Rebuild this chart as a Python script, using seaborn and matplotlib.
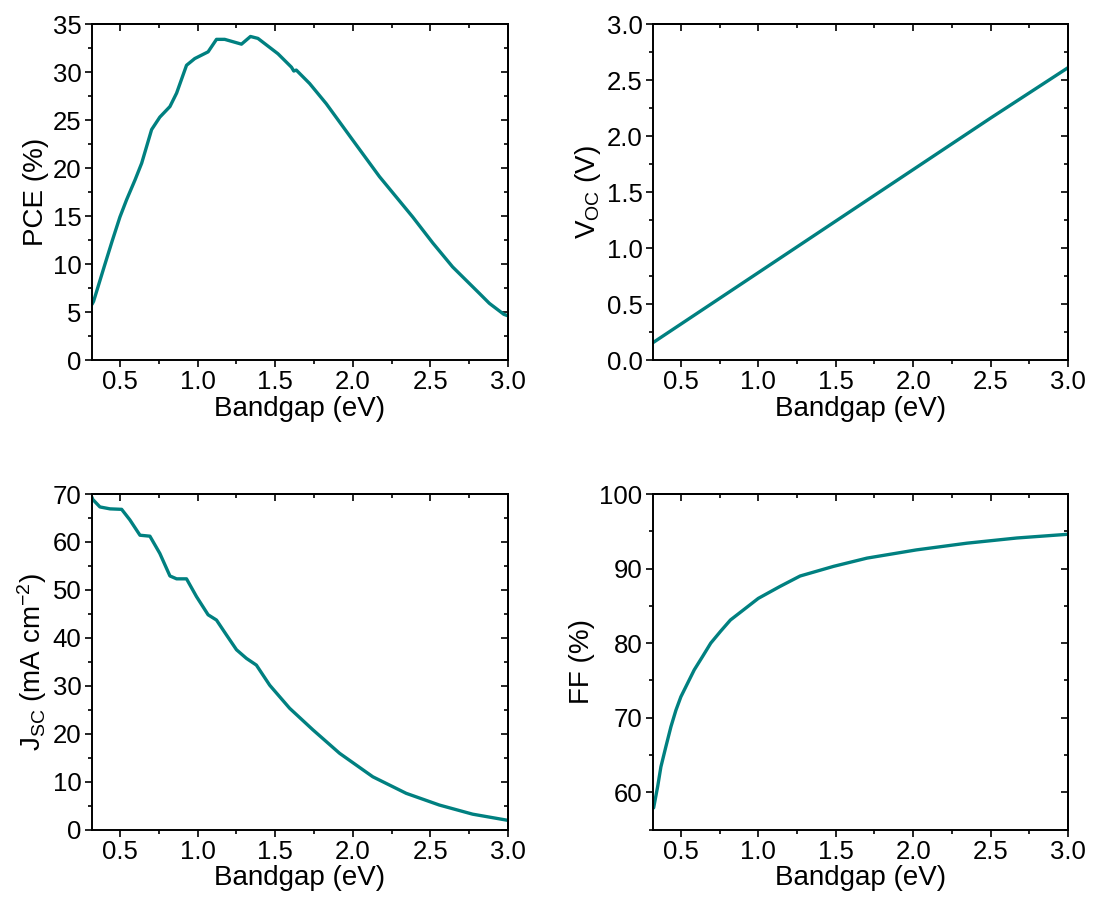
import numpy as np
import pandas as pd
import matplotlib
matplotlib.use("Agg")
import matplotlib.pyplot as plt
import seaborn as sns
from matplotlib.ticker import MultipleLocator

# ---- data ----
pce_eg = [0.32, 0.33, 0.40, 0.45, 0.50, 0.543, 0.597, 0.640, 0.704, 0.757, 0.822, 0.865,
          0.929, 0.982, 1.068, 1.122, 1.175, 1.283, 1.341, 1.389, 1.518, 1.605, 1.62,
          1.636, 1.722, 1.829, 2.0, 2.172, 2.386, 2.515, 2.643, 2.815, 2.88, 2.973, 3.0]
pce = [5.8, 6.1, 9.8, 12.4, 14.9, 16.7, 18.75, 20.5, 24.0, 25.3, 26.4, 27.8,
       30.7, 31.4, 32.1, 33.4, 33.4, 32.9, 33.7, 33.5, 31.9, 30.5, 30.1,
       30.2, 28.8, 26.7, 22.9, 19.1, 14.9, 12.2, 9.7, 6.95, 5.9, 4.76, 4.6]

voc_eg = [0.32, 1.0, 1.5, 2.0, 2.5, 3.0]
voc = [0.155, 0.78, 1.24, 1.70, 2.16, 2.61]

jsc_eg = [0.32, 0.324, 0.371, 0.436, 0.511, 0.564, 0.629, 0.693, 0.757, 0.822, 0.865,
          0.929, 0.993, 1.068, 1.122, 1.186, 1.251, 1.315, 1.379, 1.465, 1.593, 1.743,
          1.915, 2.129, 2.344, 2.558, 2.772, 2.987, 3.0]
jsc = [69.3, 68.9, 67.3, 66.9, 66.8, 64.6, 61.4, 61.2, 57.6, 52.9, 52.3,
       52.3, 48.6, 44.8, 43.7, 40.6, 37.5, 35.7, 34.3, 30.1, 25.3, 20.8,
       15.9, 11.0, 7.55, 5.1, 3.2, 1.98, 1.9]

ff_eg = [0.324, 0.35, 0.371, 0.403, 0.436, 0.468, 0.50, 0.543, 0.586, 0.64, 0.693,
         0.757, 0.82, 0.907, 1.0, 1.14, 1.27, 1.487, 1.702, 2.02, 2.346, 2.67, 3.0]
ff = [57.9, 60.75, 63.4, 66.1, 68.8, 71.0, 72.8, 74.6, 76.4, 78.2, 80.0,
      81.6, 83.1, 84.5, 86.0, 87.6, 89.0, 90.3, 91.4, 92.5, 93.4, 94.1, 94.6]

xlabel = "Bandgap (eV)"
line_color = "#008080"

sns.set_theme(style="ticks")
plt.rcParams["font.family"] = ["Liberation Sans", "DejaVu Sans"]
plt.rcParams["mathtext.fontset"] = "custom"
plt.rcParams["mathtext.rm"] = "Liberation Sans"
plt.rcParams["mathtext.it"] = "Liberation Sans:italic"
plt.rcParams["axes.edgecolor"] = "black"
plt.rcParams["axes.labelcolor"] = "black"
plt.rcParams["text.color"] = "black"
plt.rcParams["xtick.color"] = "black"
plt.rcParams["ytick.color"] = "black"

fig = plt.figure(figsize=(10.94, 8.99), dpi=100)
W, H = 1094, 899


def make_ax(l, r, t, b):
    return fig.add_axes([l / W, 1 - b / H, (r - l) / W, (b - t) / H])


panels = [
    (make_ax(92, 508, 24, 360), pce_eg, pce, "PCE (%)", (0, 35), 5, 2.5),
    (make_ax(653, 1068, 24, 360), voc_eg, voc, r"V$_\mathrm{OC}$ (V)", (0, 3.0), 0.5, 0.25),
    (make_ax(92, 508, 494, 829.5), jsc_eg, jsc, r"J$_\mathrm{SC}$ (mA cm$^{-2}$)", (0, 70), 10, 5),
    (make_ax(653, 1068, 494, 829.5), ff_eg, ff, "FF (%)", (55, 100), 10, 5),
]

for ax, xs, ys, ylab, ylim, maj, mnr in panels:
    df = pd.DataFrame({"x": xs, "y": ys})
    sns.lineplot(data=df, x="x", y="y", ax=ax, color=line_color, linewidth=2.4,
                 sort=False, estimator=None)
    ax.set_xlim(0.32, 3.0)
    ax.set_ylim(*ylim)
    ax.xaxis.set_major_locator(MultipleLocator(0.5))
    ax.xaxis.set_minor_locator(MultipleLocator(0.25))
    ax.yaxis.set_major_locator(MultipleLocator(maj))
    ax.yaxis.set_minor_locator(MultipleLocator(mnr))
    ax.set_xlabel(xlabel, fontsize=20, labelpad=1)
    ax.set_ylabel(ylab, fontsize=20, labelpad=3)
    for s in ax.spines.values():
        s.set_visible(True)
        s.set_linewidth(1.4)
        s.set_color("black")
    ax.tick_params(axis="both", which="major", direction="out", length=5, width=1.2,
                   labelsize=18.5, colors="black", pad=2.5)
    ax.tick_params(axis="both", which="minor", direction="out", length=3, width=1.2,
                   colors="black")
    # inward ticks on top and right
    sx = ax.secondary_xaxis("top")
    sx.xaxis.set_major_locator(MultipleLocator(0.5))
    sx.xaxis.set_minor_locator(MultipleLocator(0.25))
    sx.tick_params(which="major", direction="in", length=5, width=1.2, labeltop=False)
    sx.tick_params(which="minor", direction="in", length=3, width=1.2)
    sy = ax.secondary_yaxis("right")
    sy.yaxis.set_major_locator(MultipleLocator(maj))
    sy.yaxis.set_minor_locator(MultipleLocator(mnr))
    sy.tick_params(which="major", direction="in", length=5, width=1.2, labelright=False)
    sy.tick_params(which="minor", direction="in", length=3, width=1.2)
    for s in list(sx.spines.values()) + list(sy.spines.values()):
        s.set_linewidth(1.4)

fig.savefig("out.png", dpi=100, facecolor="white")
